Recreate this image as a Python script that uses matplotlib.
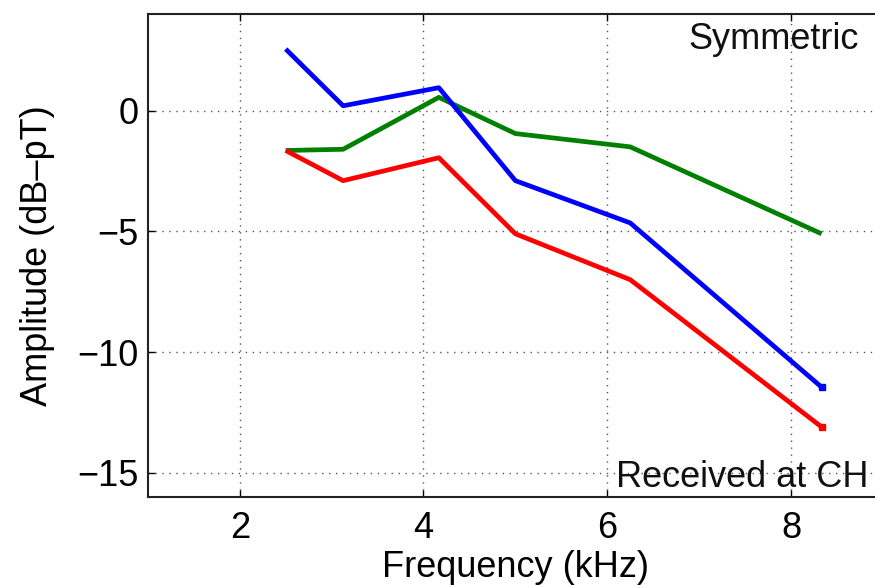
import matplotlib.pyplot as plt
import numpy as np

plt.rcParams['font.family'] = ['Liberation Sans', 'DejaVu Sans']

# Data
freq_khz = [2.5, 3.125, 4.167, 5.0, 6.25, 8.333]
amp_blue = [2.55, 0.2, 0.95, -2.9, -4.65, -11.45]
amp_green = [-1.65, -1.6, 0.55, -0.95, -1.5, -5.1]
amp_red = [-1.65, -2.9, -1.95, -5.1, -7.0, -13.1]

xticks = [2, 4, 6, 8]
yticks = [-15, -10, -5, 0]

fig = plt.figure(figsize=(8.75, 5.85), dpi=100)
ax = fig.add_axes([0.169, 0.1504, 0.840, 0.8256])

for amp, col, mark in [(amp_green, (0, 0.5, 0), False),
                       (amp_blue, (0, 0, 1), True),
                       (amp_red, (1, 0, 0), True)]:
    ax.plot(freq_khz, amp, color=col, lw=3.4, solid_capstyle='butt')
    if mark:
        ax.plot(freq_khz[-1:], amp[-1:], 's', color=col, ms=4.5)

ax.set_xlim(1, 9)
ax.set_ylim(-16, 4)
ax.set_xticks(xticks)
ax.set_yticks(yticks)
ax.set_yticklabels([str(v).replace('-', '\u2212') for v in yticks])
ax.tick_params(direction='in', length=5, width=1, labelsize=26, top=True, right=True, pad=7)
ax.tick_params(axis='x', pad=10)
ax.grid(True, linestyle=(0, (1, 4)), color='#555555', lw=1)
for s in ax.spines.values():
    s.set_linewidth(1.5)
    s.set_color('#222222')

ax.set_xlabel('Frequency (kHz)', fontsize=26, labelpad=3)
ax.set_ylabel('Amplitude (dB\u2013pT)', fontsize=26, labelpad=16)

ax.text(8.74, 3.65, 'Symmetric', ha='right', va='top', fontsize=26, color='#111111')
ax.text(8.84, -15.6, 'Received at CH', ha='right', va='baseline', fontsize=26, color='#111111')

fig.savefig('out.png', dpi=100)
